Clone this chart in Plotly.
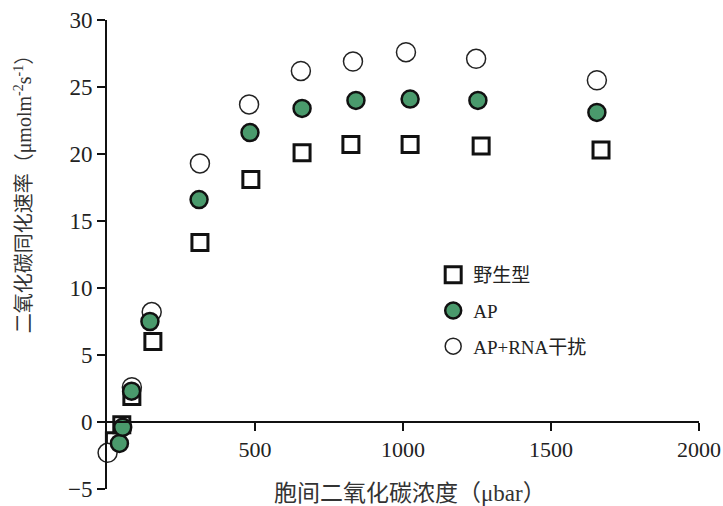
import plotly.graph_objects as go

# Data
wt_x = [25, 50, 84, 155, 314, 486, 659, 824, 1024, 1264, 1669]
wt_y = [-1.4, -0.2, 1.9, 6.0, 13.4, 18.1, 20.1, 20.7, 20.7, 20.6, 20.3]

ap_x = [42, 53, 83, 145, 311, 483, 659, 841, 1024, 1253, 1655]
ap_y = [-1.6, -0.4, 2.3, 7.5, 16.6, 21.6, 23.4, 24.0, 24.1, 24.0, 23.1]

rna_x = [2, 84, 151, 314, 480, 655, 831, 1010, 1247, 1655]
rna_y = [-2.3, 2.6, 8.2, 19.3, 23.7, 26.2, 26.9, 27.6, 27.1, 25.5]

names = ["野生型", "AP", "AP+RNA干扰"]
x_ticks = [500, 1000, 1500, 2000]
y_ticks = [-5, 0, 5, 10, 15, 20, 25, 30]

x_title = "胞间二氧化碳浓度（μbar）"
y_title = "二氧化碳同化速率（μmolm<sup>-2</sup>s<sup>-1</sup>）"

FONT = "Liberation Serif, 'Noto Sans CJK SC', serif"
GREEN = "#4a9a6c"

fig = go.Figure()
fig.add_trace(go.Scatter(
    x=wt_x, y=wt_y, mode="markers", name=names[0], legendgroup="a",
    legendrank=1,
    marker=dict(symbol="square", size=16, color="white",
                line=dict(color="#111", width=3)),
    cliponaxis=False))
fig.add_trace(go.Scatter(
    x=rna_x, y=rna_y, mode="markers", name=names[2], legendgroup="c",
    legendrank=3,
    marker=dict(symbol="circle", size=19, color="white",
                line=dict(color="#222", width=1.5)),
    cliponaxis=False))
fig.add_trace(go.Scatter(
    x=ap_x, y=ap_y, mode="markers", name=names[1], legendgroup="b",
    legendrank=2,
    marker=dict(symbol="circle", size=17, color=GREEN,
                line=dict(color="#111", width=2.5)),
    cliponaxis=False))

fig.update_layout(
    width=723, height=506,
    margin=dict(l=107, r=24, t=20, b=17, autoexpand=False),
    paper_bgcolor="white", plot_bgcolor="white",
    font=dict(family=FONT, color="#222", size=22),
    showlegend=True,
    legend=dict(x=0.551, y=0.497, xanchor="left", yanchor="top",
                bgcolor="rgba(0,0,0,0)", font=dict(size=19, family=FONT),
                traceorder="grouped", tracegroupgap=8),
    xaxis=dict(range=[0, 2000], tickvals=x_ticks, showgrid=False,
               zeroline=False, showline=True, linecolor="#111", linewidth=2,
               ticks="outside", ticklen=8, tickwidth=2, tickcolor="#111",
               anchor="free", position=5 / 35, automargin=False,
               tickfont=dict(size=22, family=FONT, color="#222")),
    yaxis=dict(range=[-5, 30], tickvals=y_ticks, showgrid=False,
               zeroline=False, showline=True, linecolor="#111", linewidth=2,
               ticks="outside", ticklen=8, tickwidth=2, tickcolor="#111",
               automargin=False,
               tickfont=dict(size=23, family=FONT, color="#222")),
    annotations=[
        dict(text=x_title, xref="paper", yref="paper", x=0.512, y=-0.009,
             xanchor="center", yanchor="middle", showarrow=False,
             font=dict(size=23, family=FONT, color="#333")),
        dict(text=y_title, xref="paper", yref="paper", x=-0.141, y=0.64,
             xanchor="center", yanchor="middle", showarrow=False,
             textangle=-90, font=dict(size=20, family=FONT, color="#333")),
    ],
)

# remove the default 8px page margin so the figure fills the window exactly
fig.write_html(
    "out.html",
    config={"displayModeBar": False},
    post_script="document.body.style.margin='0';document.body.style.overflow='hidden';",
)
